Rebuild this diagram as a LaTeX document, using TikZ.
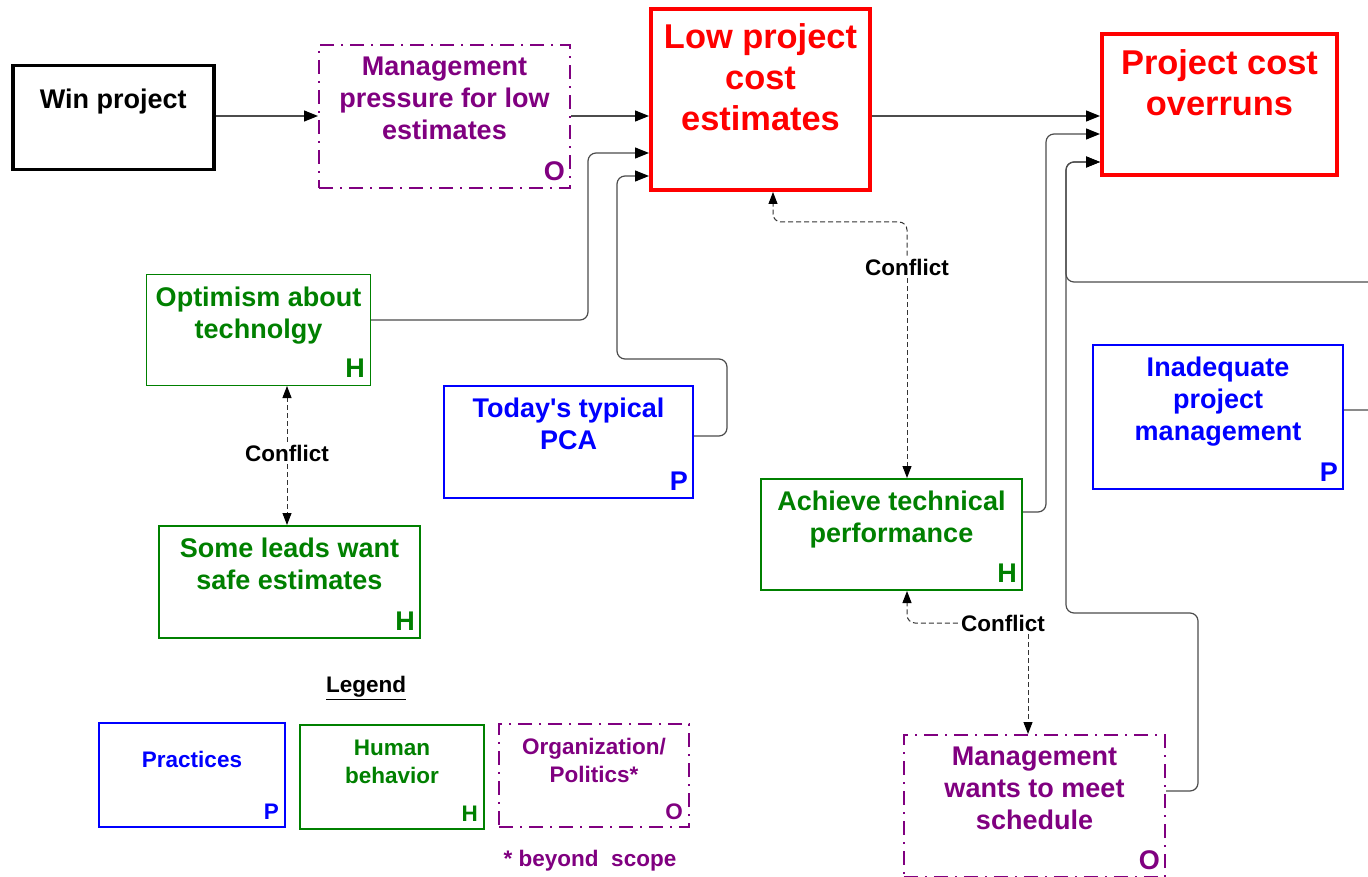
\documentclass[tikz,border=0pt]{standalone}
\usepackage{fontspec}
\setmainfont{Liberation Sans}
\usepackage{xcolor}
\definecolor{hgreen}{RGB}{0,128,0}
\definecolor{pblue}{RGB}{0,0,255}
\definecolor{opurple}{RGB}{128,0,128}
\usetikzlibrary{positioning}
\usetikzlibrary{arrows.meta}
\tikzset{>={Triangle[length=14pt,width=11pt,color=black]}}
\tikzset{
  box/.style={draw, rectangle, anchor=north west, inner sep=0pt},
  rbox/.style={box, draw=red, line width=4pt},
  pbox/.style={box, draw=pblue, line width=2pt},
  hbox/.style={box, draw=hgreen, line width=2pt},
  obox/.style={box, draw=opurple, line width=2pt, dash pattern=on 14pt off 7pt on 2pt off 7pt},
  txt/.style={inner sep=0pt, align=center, font=\fontsize{27}{32}\selectfont\bfseries},
  bigtxt/.style={txt, text=red, font=\fontsize{34.4}{41}\selectfont\bfseries},
  legtxt/.style={txt, font=\fontsize{22.5}{28}\selectfont\bfseries},
  tag/.style={inner sep=0pt, font=\fontsize{27}{32}\selectfont\bfseries},
  legtag/.style={inner sep=0pt, font=\fontsize{22.5}{28}\selectfont\bfseries},
  conn/.style={draw=black!70, line width=1.2pt, rounded corners=8pt, ->},
  confl/.style={draw=black!80, line width=1pt, dash pattern=on 5pt off 3pt, rounded corners=8pt,
    -{Triangle[length=12pt,width=9pt,color=black]}},
  clab/.style={inner sep=3pt, font=\fontsize{22.5}{28}\selectfont\bfseries},
}
\begin{document}
\begin{tikzpicture}[x=1pt,y=-1pt]
\useasboundingbox (0,0) rectangle (1368,877);

\node[box, draw=black, line width=3.5pt, minimum width=201pt, minimum height=104pt] (win) at (11,64) {};
\node[obox, minimum width=251pt, minimum height=143pt] (mgmt) at (318,44) {};
\node[rbox, minimum width=219pt, minimum height=181pt] (low) at (649,7) {};
\node[rbox, minimum width=235pt, minimum height=141pt] (over) at (1100,32) {};
\node[hbox, line width=1pt, minimum width=224pt, minimum height=111pt] (opt) at (146,274) {};
\node[pbox, minimum width=249pt, minimum height=112pt] (pca) at (443,385) {};
\node[hbox, minimum width=261pt, minimum height=112pt] (leads) at (158,525) {};
\node[hbox, minimum width=261pt, minimum height=111pt] (ach) at (760,478) {};
\node[pbox, minimum width=250pt, minimum height=144pt] (inad) at (1092,344) {};
\node[obox, minimum width=261pt, minimum height=142pt] (sched) at (903,734) {};

\node[txt, below=25pt of win.north] (wintxt) {Win project};
\node[txt, text=opurple, below=13pt of mgmt.north] (mgmttxt) {Management\\pressure for low\\estimates};
\node[bigtxt, below=16pt of low.north] (lowtxt) {Low project\\cost\\estimates};
\node[bigtxt, below=17pt of over.north] (overtxt) {Project cost\\overruns};
\node[txt, text=hgreen, below=13pt of opt.north] (opttxt) {Optimism about\\technolgy};
\node[txt, text=pblue, below=13pt of pca.north] (pcatxt) {Today\textquotesingle s typical\\PCA};
\node[txt, text=hgreen, below=13pt of leads.north] (leadstxt) {Some leads want\\safe estimates};
\node[txt, text=hgreen, below=13pt of ach.north] (achtxt) {Achieve technical\\performance};
\node[txt, text=pblue, below=13pt of inad.north] (inadtxt) {Inadequate\\project\\management};
\node[txt, text=opurple, below=13pt of sched.north] (schedtxt) {Management\\wants to meet\\schedule};

\node[tag, text=opurple, above left=8pt and 6pt of mgmt.south east] (mgmttag) {O};
\node[tag, text=hgreen, above left=8pt and 6pt of opt.south east] (opttag) {H};
\node[tag, text=pblue, above left=8pt and 6pt of pca.south east] (pcatag) {P};
\node[tag, text=hgreen, above left=8pt and 6pt of leads.south east] (leadstag) {H};
\node[tag, text=hgreen, above left=8pt and 6pt of ach.south east] (achtag) {H};
\node[tag, text=pblue, above left=8pt and 6pt of inad.south east] (inadtag) {P};
\node[tag, text=opurple, above left=8pt and 6pt of sched.south east] (schedtag) {O};

\draw[conn] (win.east |- 0,116) -- (mgmt.west |- 0,116);
\draw[conn] (mgmt.east |- 0,116) -- (low.west |- 0,116);
\draw[conn] (opt.east |- 0,320) -| (588,153) -- (low.west |- 0,153);
\draw[conn] (pca.east |- 0,436) -| (727,359) -| (617,176) -- (low.west |- 0,176);
\draw[conn] (low.east |- 0,116) -- (over.west |- 0,116);
\draw[conn] (ach.east |- 0,512) -| (1046,134) -- (over.west |- 0,134);
\draw[conn] (inad.east |- 0,410) -| (1376,282) -| (1066,162) -- (over.west |- 0,162);
\draw[conn] (sched.east |- 0,791) -| (1198,613) -| (1066,162) -- (over.west |- 0,162);

\node[clab] (c1) at (907,267) {Conflict};
\node[clab] (c2) at (287,453) {Conflict};
\node[clab] (c3) at (1003,623) {Conflict};
\draw[confl] (c1.north) |- (840,222) -| (low.south -| 773,0);
\draw[confl] (c1.south) -- (ach.north -| c1);
\draw[confl] (c2.north) -- (opt.south -| c2);
\draw[confl] (c2.south) -- (leads.north -| c2);
\draw[confl] (c3.west) -| (ach.south -| 907,0);
\draw[confl] (c3.south -| 1028,0) -- (sched.north -| 1028,0);

\node[legtxt] (legend) at (366,688) {\underline{Legend}};
\node[pbox, minimum width=186pt, minimum height=104pt] (lp) at (98,722) {};
\node[hbox, minimum width=184pt, minimum height=104pt] (lh) at (299,724) {};
\node[obox, minimum width=190pt, minimum height=103pt] (lo) at (498,723) {};
\node[legtxt, text=pblue, below=29pt of lp.north] (lptxt) {Practices};
\node[legtxt, text=hgreen, below=16pt of lh.north] (lhtxt) {Human\\behavior};
\node[legtxt, text=opurple, below=15pt of lo.north] (lotxt) {Organization/\\Politics*};
\node[legtag, text=pblue, above left=8pt and 7pt of lp.south east] (lptag) {P};
\node[legtag, text=hgreen, above left=8pt and 7pt of lh.south east] (lhtag) {H};
\node[legtag, text=opurple, above left=8pt and 7pt of lo.south east] (lotag) {O};
\node[legtxt, text=opurple] (scope) at (590,861) {* beyond\ \ scope};
\end{tikzpicture}
\end{document}
